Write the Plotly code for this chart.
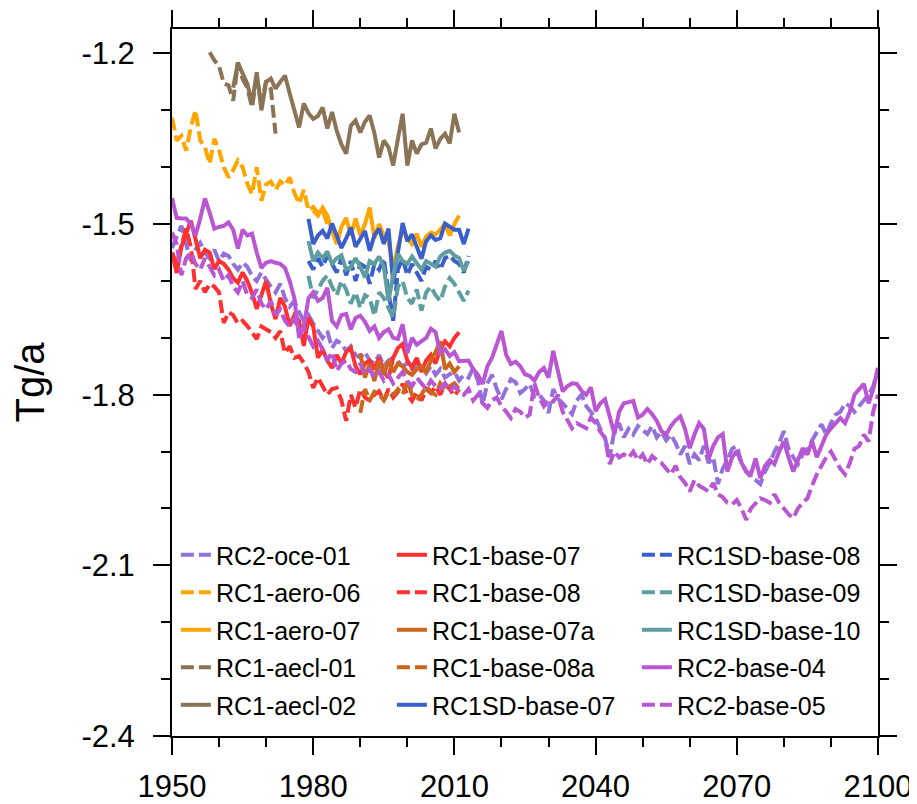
import plotly.graph_objects as go

# ---------------- data (annual values, Tg/a) ----------------
oce01_start = 1950
oce01 = [
    -1.542, -1.52, -1.503, -1.535, -1.565, -1.545, -1.533, -1.55, -1.56, -1.545,
    -1.565, -1.552, -1.556, -1.57, -1.58, -1.568, -1.575, -1.591, -1.60, -1.585,
    -1.598, -1.61, -1.62, -1.605, -1.63, -1.645, -1.635, -1.655, -1.67, -1.66,
    -1.675, -1.688, -1.70, -1.688, -1.718, -1.705, -1.71, -1.723, -1.715, -1.73,
    -1.735, -1.725, -1.74, -1.745, -1.73, -1.75, -1.74, -1.735, -1.741, -1.75,
    -1.745, -1.755, -1.745, -1.75, -1.762, -1.75, -1.765, -1.755, -1.77, -1.764,
    -1.76, -1.775, -1.765, -1.77, -1.753, -1.775, -1.817, -1.78, -1.765, -1.79,
    -1.808, -1.79, -1.773, -1.778, -1.797, -1.79, -1.781, -1.803, -1.80, -1.81,
    -1.832, -1.79, -1.807, -1.815, -1.825, -1.834, -1.81, -1.80, -1.82, -1.83,
    -1.841, -1.86, -1.876, -1.91, -1.862, -1.85, -1.875, -1.86, -1.87, -1.855,
    -1.862, -1.869, -1.855, -1.875, -1.865, -1.88, -1.87, -1.885, -1.905, -1.89,
    -1.922, -1.905, -1.915, -1.89, -1.92, -1.91, -1.957, -1.93, -1.915, -1.895,
    -1.89, -1.92, -1.935, -1.945, -1.95, -1.957, -1.935, -1.92, -1.90, -1.885,
    -1.864, -1.895, -1.91, -1.922, -1.905, -1.895, -1.88, -1.865, -1.852, -1.87,
    -1.85, -1.835, -1.83, -1.815, -1.82, -1.83, -1.82, -1.81, -1.80, -1.785,
    -1.753,
]

aero06_start = 1950
aero06 = [
    -1.313, -1.353, -1.345, -1.371, -1.33, -1.30, -1.353, -1.365, -1.394, -1.35,
    -1.37, -1.40, -1.418, -1.405, -1.388, -1.40, -1.429, -1.447, -1.40, -1.459,
    -1.43, -1.425, -1.44, -1.425, -1.432, -1.418, -1.445, -1.464, -1.44, -1.476,
    -1.47, -1.48, -1.475, -1.50,
]

aero07_start = 1980
aero07 = [
    -1.476, -1.485, -1.471, -1.485, -1.512, -1.535, -1.505, -1.489, -1.52, -1.49,
    -1.52, -1.50, -1.471, -1.525, -1.50, -1.52, -1.53, -1.577, -1.54, -1.51,
    -1.525, -1.535, -1.517, -1.54, -1.522, -1.515, -1.518, -1.51, -1.499, -1.52,
    -1.50, -1.485,
]

aecl01_start = 1958
aecl01 = [
    -1.198, -1.212, -1.222, -1.253, -1.256, -1.283, -1.216, -1.245, -1.26, -1.295,
    -1.24, -1.29, -1.248, -1.262, -1.341,
]

aecl02_start = 1963
aecl02 = [
    -1.26, -1.216, -1.235, -1.253, -1.288, -1.233, -1.30, -1.25,
    -1.244, -1.262, -1.25, -1.239, -1.27, -1.30, -1.33, -1.288, -1.305,
    -1.315, -1.31, -1.295, -1.332, -1.303, -1.336, -1.36, -1.376, -1.327, -1.318,
    -1.339, -1.32, -1.309, -1.34, -1.383, -1.353, -1.365, -1.397, -1.35, -1.306,
    -1.397, -1.353, -1.376, -1.36, -1.357, -1.332, -1.367, -1.35, -1.341, -1.358,
    -1.306, -1.339,
]

base07_start = 1950
base07 = [
    -1.55, -1.586, -1.54, -1.515, -1.494, -1.526, -1.56, -1.545, -1.55, -1.579,
    -1.565, -1.57, -1.58, -1.595, -1.603, -1.585, -1.60, -1.621, -1.649, -1.625,
    -1.60, -1.64, -1.667, -1.63, -1.645, -1.679, -1.66, -1.67, -1.714, -1.665,
    -1.68, -1.735, -1.72, -1.74, -1.753, -1.73, -1.745, -1.725, -1.718, -1.75,
    -1.764, -1.745, -1.74, -1.755, -1.735, -1.76, -1.77, -1.735, -1.718, -1.711,
    -1.74, -1.752, -1.735, -1.76, -1.74, -1.73, -1.745, -1.72, -1.706, -1.715,
    -1.70, -1.69,
]

base08_start = 1950
base08 = [
    -1.55, -1.57, -1.538, -1.508, -1.54, -1.614, -1.60, -1.62, -1.605, -1.61,
    -1.62, -1.674, -1.655, -1.66, -1.675, -1.67, -1.679, -1.69, -1.702, -1.68,
    -1.685, -1.69, -1.70, -1.688, -1.727, -1.715, -1.735, -1.732, -1.744, -1.76,
    -1.788, -1.77, -1.785, -1.80, -1.79, -1.788, -1.81, -1.846, -1.80, -1.823,
    -1.79, -1.805, -1.81, -1.80, -1.794, -1.81, -1.79, -1.805, -1.795, -1.781,
    -1.80, -1.811, -1.795, -1.81, -1.79, -1.797, -1.785, -1.80, -1.781, -1.79,
    -1.802, -1.79,
]

base07a_start = 1990
base07a = [
    -1.727, -1.77, -1.745, -1.776, -1.74, -1.765, -1.74, -1.76, -1.745, -1.75,
    -1.76, -1.765, -1.755, -1.75, -1.76, -1.74, -1.725, -1.706, -1.755, -1.745,
    -1.76, -1.75,
]

base08a_start = 1990
base08a = [
    -1.832, -1.79, -1.81, -1.795, -1.80, -1.81, -1.795, -1.80, -1.79, -1.80,
    -1.776, -1.80, -1.81, -1.80, -1.785, -1.795, -1.80, -1.78, -1.79, -1.785,
    -1.78, -1.79,
]

sd07_start = 1979
sd07 = [
    -1.491, -1.535, -1.52, -1.512, -1.525, -1.499, -1.52, -1.542, -1.525, -1.506,
    -1.54, -1.525, -1.512, -1.547, -1.52, -1.508, -1.535, -1.508, -1.605, -1.55,
    -1.498, -1.53, -1.518, -1.54, -1.561, -1.53, -1.52, -1.528, -1.525, -1.499,
    -1.505, -1.51, -1.51, -1.535, -1.508,
]

sd08_start = 1979
sd08 = [
    -1.565, -1.58, -1.56, -1.575, -1.555, -1.57, -1.585, -1.56, -1.59, -1.565,
    -1.60, -1.57, -1.575, -1.605, -1.57, -1.58, -1.56, -1.62, -1.67, -1.58,
    -1.56, -1.59, -1.57, -1.585, -1.60, -1.575, -1.58, -1.565, -1.58, -1.56,
    -1.555, -1.565, -1.57, -1.585, -1.556,
]

sd09_start = 1979
sd09 = [
    -1.591, -1.63, -1.615, -1.60, -1.59, -1.61, -1.625, -1.60, -1.615, -1.64,
    -1.62, -1.647, -1.625, -1.63, -1.661, -1.62, -1.63, -1.647, -1.665, -1.61,
    -1.60, -1.63, -1.64, -1.615, -1.652, -1.62, -1.61, -1.625, -1.635, -1.61,
    -1.595, -1.605, -1.62, -1.635, -1.617,
]

sd10_start = 1979
sd10 = [
    -1.53, -1.565, -1.55, -1.56, -1.548, -1.57, -1.56, -1.555, -1.58, -1.575,
    -1.56, -1.575, -1.594, -1.565, -1.57, -1.557, -1.575, -1.635, -1.59, -1.552,
    -1.565, -1.57, -1.557, -1.57, -1.58, -1.565, -1.57, -1.575, -1.557, -1.55,
    -1.547, -1.555, -1.56, -1.582, -1.565,
]

base04_start = 1950
base04 = [
    -1.454, -1.489, -1.49, -1.49, -1.50, -1.52, -1.49, -1.455, -1.48, -1.508,
    -1.505, -1.503, -1.497, -1.51, -1.543, -1.51, -1.52, -1.517, -1.55, -1.577,
    -1.568, -1.565, -1.568, -1.57, -1.577, -1.60, -1.63, -1.70, -1.68, -1.63,
    -1.62, -1.635, -1.63, -1.612, -1.67, -1.68, -1.66, -1.658, -1.685, -1.665,
    -1.661, -1.672, -1.688, -1.68, -1.70, -1.69, -1.685, -1.70, -1.702, -1.676,
    -1.727, -1.70, -1.712, -1.705, -1.70, -1.684, -1.69, -1.727, -1.72, -1.732,
    -1.725, -1.741, -1.741, -1.74, -1.755, -1.765, -1.781, -1.75, -1.735, -1.711,
    -1.688, -1.73, -1.746, -1.742, -1.75, -1.764, -1.767, -1.775, -1.76, -1.753,
    -1.77, -1.723, -1.76, -1.794, -1.785, -1.78, -1.781, -1.793, -1.80, -1.787,
    -1.829, -1.815, -1.808, -1.84, -1.869, -1.83, -1.815, -1.813, -1.811, -1.84,
    -1.835, -1.825, -1.834, -1.846, -1.864, -1.87, -1.855, -1.845, -1.838, -1.86,
    -1.894, -1.87, -1.85, -1.86, -1.913, -1.89, -1.875, -1.869, -1.935, -1.91,
    -1.899, -1.92, -1.935, -1.94, -1.912, -1.947, -1.925, -1.915, -1.922, -1.90,
    -1.882, -1.91, -1.935, -1.915, -1.894, -1.905, -1.882, -1.91, -1.89, -1.87,
    -1.859, -1.85, -1.841, -1.85, -1.83, -1.80, -1.79, -1.781, -1.815, -1.79,
    -1.753,
]

base05_start = 1950
base05 = [
    -1.515, -1.535, -1.59, -1.56, -1.55, -1.57, -1.58, -1.56, -1.575, -1.59,
    -1.58, -1.60, -1.59, -1.61, -1.62, -1.60, -1.625, -1.63, -1.615, -1.64,
    -1.65, -1.635, -1.66, -1.65, -1.67, -1.68, -1.665, -1.69, -1.682, -1.70,
    -1.715, -1.705, -1.72, -1.74, -1.725, -1.758, -1.745, -1.74, -1.755, -1.76,
    -1.745, -1.765, -1.755, -1.77, -1.76, -1.775, -1.765, -1.78, -1.77, -1.76,
    -1.776, -1.785, -1.77, -1.78, -1.79, -1.775, -1.785, -1.79, -1.78, -1.794,
    -1.785, -1.794, -1.80, -1.79, -1.81, -1.80, -1.815, -1.823, -1.81, -1.805,
    -1.82, -1.83, -1.841, -1.825, -1.83, -1.84, -1.835, -1.78, -1.805, -1.82,
    -1.808, -1.812, -1.80, -1.83, -1.845, -1.859, -1.85, -1.855, -1.859, -1.84,
    -1.85, -1.865, -1.876, -1.922, -1.90, -1.91, -1.905, -1.911, -1.90, -1.915,
    -1.905, -1.922, -1.908, -1.915, -1.92, -1.93, -1.94, -1.925, -1.945, -1.955,
    -1.97, -1.95, -1.96, -1.965, -1.97, -1.955, -1.975, -1.98, -1.99, -1.993,
    -1.985, -2.00, -2.02, -2.00, -1.99, -1.982, -1.985, -1.99, -1.975, -1.99,
    -2.00, -2.01, -2.017, -2.00, -1.99, -1.982, -1.96, -1.94, -1.925, -1.91,
    -1.90, -1.915, -1.93, -1.94, -1.92, -1.895, -1.89, -1.87, -1.882, -1.829,
    -1.80,
]

x_tick_vals = [1950, 1980, 2010, 2040, 2070, 2100]
x_tick_text = ["1950", "1980", "2010", "2040", "2070", "2100"]
y_tick_vals = [-2.4, -2.1, -1.8, -1.5, -1.2]
y_tick_text = ["-2.4", "-2.1", "-1.8", "-1.5", "-1.2"]

# ---------------- series definitions ----------------
C_PURPLE = "#9370DB"
C_ORANGE = "#FFA500"
C_BROWN = "#8B7355"
C_RED = "#FF3030"
C_CHOC = "#CD661D"
C_BLUE = "#3A5FCD"
C_CADET = "#5F9EA0"
C_ORCHID = "#BA55D3"
DASH = "13px,5px"

series = [
    ("RC2-oce-01", oce01_start, oce01, C_PURPLE, DASH, "legend"),
    ("RC1-aero-06", aero06_start, aero06, C_ORANGE, DASH, "legend"),
    ("RC1-aero-07", aero07_start, aero07, C_ORANGE, "solid", "legend"),
    ("RC1-aecl-01", aecl01_start, aecl01, C_BROWN, DASH, "legend"),
    ("RC1-aecl-02", aecl02_start, aecl02, C_BROWN, "solid", "legend"),
    ("RC1-base-07", base07_start, base07, C_RED, "solid", "legend2"),
    ("RC1-base-08", base08_start, base08, C_RED, DASH, "legend2"),
    ("RC1-base-07a", base07a_start, base07a, C_CHOC, "solid", "legend2"),
    ("RC1-base-08a", base08a_start, base08a, C_CHOC, DASH, "legend2"),
    ("RC1SD-base-07", sd07_start, sd07, C_BLUE, "solid", "legend2"),
    ("RC1SD-base-08", sd08_start, sd08, C_BLUE, DASH, "legend3"),
    ("RC1SD-base-09", sd09_start, sd09, C_CADET, DASH, "legend3"),
    ("RC1SD-base-10", sd10_start, sd10, C_CADET, "solid", "legend3"),
    ("RC2-base-04", base04_start, base04, C_ORCHID, "solid", "legend3"),
    ("RC2-base-05", base05_start, base05, C_ORCHID, DASH, "legend3"),
]

fig = go.Figure()
for name, start, vals, color, dash, leg in series:
    years = list(range(start, start + len(vals)))
    fig.add_trace(go.Scatter(
        x=years, y=vals, mode="lines", name=name,
        line=dict(color=color, width=4, dash=dash),
        legend=leg, legendgroup=name,
    ))

FONT = "Liberation Sans, Arial, Helvetica, sans-serif"
leg_common = dict(
    bgcolor="rgba(0,0,0,0)", borderwidth=0,
    font=dict(family=FONT, size=25, color="black"),
    orientation="v", yanchor="top", xanchor="left",
    tracegroupgap=2, itemwidth=30,
)

fig.update_layout(
    width=909, height=796,
    margin=dict(l=164, r=39, t=21, b=68, autoexpand=False),
    paper_bgcolor="white", plot_bgcolor="white",
    font=dict(family=FONT, color="black"),
    showlegend=True,
    legend=dict(x=0.0055, y=0.2885, **leg_common),
    legend2=dict(x=0.3115, y=0.2885, **leg_common),
    legend3=dict(x=0.6585, y=0.2885, **leg_common),
)

fig.update_xaxes(
    range=[1950, 2100], tickvals=x_tick_vals, ticktext=x_tick_text,
    ticks="outside", ticklen=17, tickwidth=1.5, tickcolor="black",
    showline=True, linecolor="black", linewidth=2, mirror="ticks",
    showgrid=False, zeroline=False,
    tickfont=dict(family=FONT, size=31, color="black"),
    ticklabelstandoff=5,
    minor=dict(ticks="outside", ticklen=9, tickwidth=1.5, tickcolor="black",
               dtick=10, tick0=1950, showgrid=False),
    automargin=False,
)
fig.update_yaxes(
    range=[-2.4, -1.157], tickvals=y_tick_vals, ticktext=y_tick_text,
    ticks="outside", ticklen=17, tickwidth=1.5, tickcolor="black",
    showline=True, linecolor="black", linewidth=2, mirror="ticks",
    showgrid=False, zeroline=False,
    tickfont=dict(family=FONT, size=31, color="black"),
    ticklabelstandoff=12,
    minor=dict(ticks="outside", ticklen=9, tickwidth=1.5, tickcolor="black",
               dtick=0.1, tick0=-2.4, showgrid=False),
    title=dict(text="Tg/a", font=dict(family=FONT, size=40, color="black"), standoff=24),
    automargin=False,
)

fig.write_html("out.html")
